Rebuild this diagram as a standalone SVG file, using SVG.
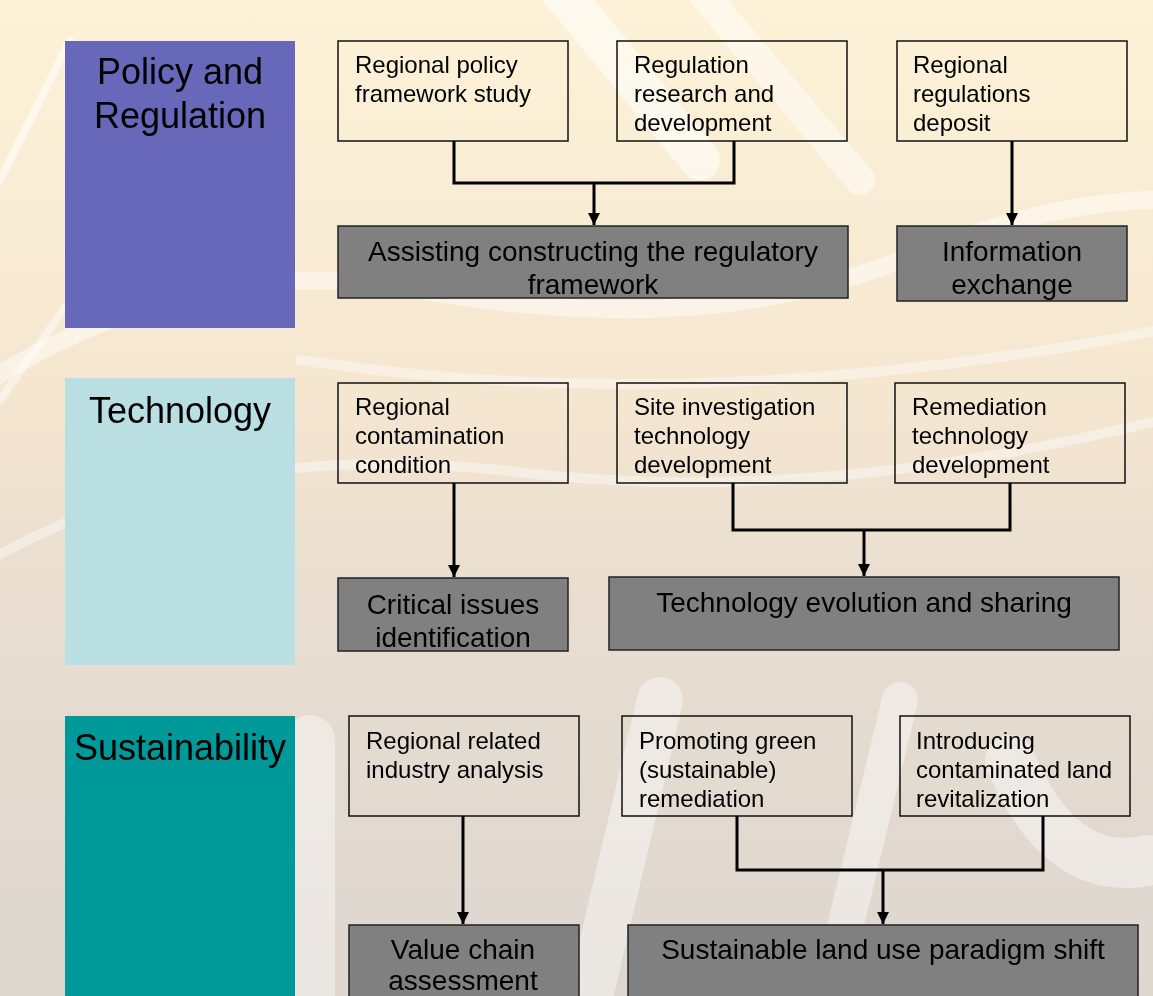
<svg xmlns="http://www.w3.org/2000/svg" width="1153" height="996" viewBox="0 0 1153 996">
<defs>
<linearGradient id="bg" x1="0" y1="0" x2="0" y2="1">
<stop offset="0" stop-color="#fdf2d8"/>
<stop offset="0.4" stop-color="#f5e6d0"/>
<stop offset="0.6" stop-color="#e8ddd0"/>
<stop offset="1" stop-color="#ddd7d0"/>
</linearGradient>
<marker id="arr" viewBox="0 0 10 10" refX="10" refY="5" markerWidth="4" markerHeight="4" orient="auto" markerUnits="strokeWidth">
<path d="M0,0 L10,5 L0,10 Z" fill="#000"/>
</marker>
<style>
.cat{font-family:"Liberation Sans",Arial,sans-serif;font-size:36px;fill:#000}
.t{font-family:"Liberation Sans",Arial,sans-serif;font-size:24px;fill:#000}
.g{font-family:"Liberation Sans",Arial,sans-serif;font-size:28px;fill:#000;text-anchor:middle}
.wb{fill:none;stroke:#111;stroke-width:1.5}
.gb{fill:#808080;stroke:#222;stroke-width:1.5}
.c{fill:none;stroke:#000;stroke-width:3}
.sw{fill:none;stroke:#fff;stroke-linecap:round}
</style>
</defs>
<rect width="1153" height="996" fill="url(#bg)"/>
<g id="background" opacity="0.8">
<path class="sw" d="M0,180 L70,40" stroke-width="8" opacity="0.7"/>
<path class="sw" d="M0,400 L70,300" stroke-width="8" opacity="0.6"/>
<path class="sw" d="M560,-10 L700,160" stroke-width="40" opacity="0.7"/>
<path class="sw" d="M700,-10 L860,180" stroke-width="30" opacity="0.6"/>
<path class="sw" d="M-10,380 Q200,250 420,290 Q700,340 900,260 Q1050,200 1160,200" stroke-width="18" opacity="0.6"/>
<path class="sw" d="M300,360 Q700,420 1160,330" stroke-width="10" opacity="0.5"/>
<path class="sw" d="M-10,560 Q200,440 500,470 Q800,510 1160,420" stroke-width="10" opacity="0.5"/>
<path class="sw" d="M310,740 L310,996" stroke-width="50" opacity="0.5"/>
<path class="sw" d="M590,996 L660,700" stroke-width="46" opacity="0.5"/>
<path class="sw" d="M830,990 L900,700" stroke-width="36" opacity="0.5"/>
<path class="sw" d="M1010,760 Q1060,880 1150,860" stroke-width="50" opacity="0.5"/>
</g>
<g id="cat-policy">
<rect x="65" y="41" width="230" height="287" fill="#6868ba"/>
<text class="cat" x="180" y="84" text-anchor="middle">Policy and</text>
<text class="cat" x="180" y="128" text-anchor="middle">Regulation</text>
</g>
<g id="cat-technology">
<rect x="65" y="378" width="230" height="287" fill="#b9dfe2"/>
<text class="cat" x="180" y="423" text-anchor="middle">Technology</text>
</g>
<g id="cat-sustainability">
<rect x="65" y="716" width="230" height="280" fill="#009999"/>
<text class="cat" x="180" y="760" text-anchor="middle">Sustainability</text>
</g>
<g id="n-policy-study">
<rect class="wb" x="338" y="41" width="230" height="100"/>
<text class="t" x="355" y="73">Regional policy</text>
<text class="t" x="355" y="102">framework study</text>
</g>
<g id="n-regulation-rd">
<rect class="wb" x="617" y="41" width="230" height="100"/>
<text class="t" x="634" y="73">Regulation</text>
<text class="t" x="634" y="102">research and</text>
<text class="t" x="634" y="131">development</text>
</g>
<g id="n-reg-deposit">
<rect class="wb" x="897" y="41" width="230" height="100"/>
<text class="t" x="913" y="73">Regional</text>
<text class="t" x="913" y="102">regulations</text>
<text class="t" x="913" y="131">deposit</text>
</g>
<g id="n-assisting">
<rect class="gb" x="338" y="226" width="510" height="72"/>
<text class="g" x="593" y="261">Assisting constructing the regulatory</text>
<text class="g" x="593" y="294">framework</text>
</g>
<g id="n-info-exchange">
<rect class="gb" x="897" y="226" width="230" height="75"/>
<text class="g" x="1012" y="261">Information</text>
<text class="g" x="1012" y="294">exchange</text>
</g>
<g id="n-contamination">
<rect class="wb" x="338" y="383" width="230" height="100"/>
<text class="t" x="355" y="415">Regional</text>
<text class="t" x="355" y="444">contamination</text>
<text class="t" x="355" y="473">condition</text>
</g>
<g id="n-site-inv">
<rect class="wb" x="617" y="383" width="230" height="100"/>
<text class="t" x="634" y="415">Site investigation</text>
<text class="t" x="634" y="444">technology</text>
<text class="t" x="634" y="473">development</text>
</g>
<g id="n-remediation-tech">
<rect class="wb" x="895" y="383" width="230" height="100"/>
<text class="t" x="912" y="415">Remediation</text>
<text class="t" x="912" y="444">technology</text>
<text class="t" x="912" y="473">development</text>
</g>
<g id="n-critical">
<rect class="gb" x="338" y="578" width="230" height="73"/>
<text class="g" x="453" y="614">Critical issues</text>
<text class="g" x="453" y="647">identification</text>
</g>
<g id="n-tech-evolution">
<rect class="gb" x="609" y="577" width="510" height="73"/>
<text class="g" x="864" y="612">Technology evolution and sharing</text>
</g>
<g id="n-industry">
<rect class="wb" x="349" y="716" width="230" height="100"/>
<text class="t" x="366" y="749">Regional related</text>
<text class="t" x="366" y="778">industry analysis</text>
</g>
<g id="n-green">
<rect class="wb" x="622" y="716" width="230" height="100"/>
<text class="t" x="639" y="749">Promoting green</text>
<text class="t" x="639" y="778">(sustainable)</text>
<text class="t" x="639" y="807">remediation</text>
</g>
<g id="n-revitalization">
<rect class="wb" x="900" y="716" width="230" height="100"/>
<text class="t" x="916" y="749">Introducing</text>
<text class="t" x="916" y="778">contaminated land</text>
<text class="t" x="916" y="807">revitalization</text>
</g>
<g id="n-value-chain">
<rect class="gb" x="349" y="925" width="230" height="80"/>
<text class="g" x="463" y="959">Value chain</text>
<text class="g" x="463" y="990">assessment</text>
</g>
<g id="n-paradigm">
<rect class="gb" x="628" y="925" width="510" height="80"/>
<text class="g" x="883" y="959">Sustainable land use paradigm shift</text>
</g>
<g id="connectors">
<path class="c" d="M454,141 V183 H734 V141"/>
<path class="c" d="M594,183 V225" marker-end="url(#arr)"/>
<path class="c" d="M1012,141 V225" marker-end="url(#arr)"/>
<path class="c" d="M454,483 V577" marker-end="url(#arr)"/>
<path class="c" d="M733,483 V530 H1010 V483"/>
<path class="c" d="M864,530 V576" marker-end="url(#arr)"/>
<path class="c" d="M463,816 V924" marker-end="url(#arr)"/>
<path class="c" d="M737,816 V870 H1043 V816"/>
<path class="c" d="M883,870 V924" marker-end="url(#arr)"/>
</g>
</svg>
